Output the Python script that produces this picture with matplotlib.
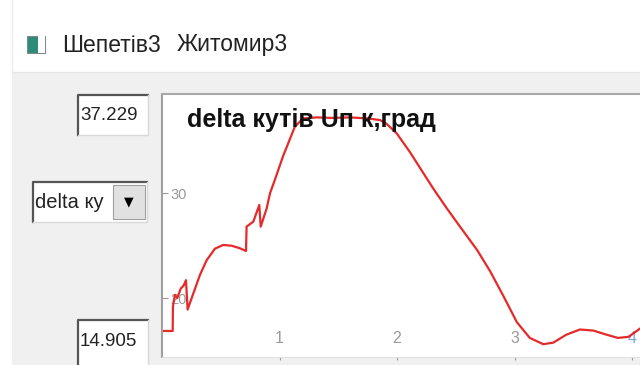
#Recreate the delta angle screenshot chart

import matplotlib
matplotlib.use('Agg')
import matplotlib.pyplot as plt
from matplotlib.patches import Rectangle
from matplotlib import font_manager

# curve (x in chart units, y in degrees)
time_x = [0.0, 0.091, 0.093, 0.11, 0.13, 0.16, 0.185, 0.204, 0.218, 0.267, 0.323,
          0.38, 0.451, 0.52, 0.593, 0.664, 0.715, 0.72, 0.777, 0.828, 0.84, 0.89,
          0.92, 0.962, 1.03, 1.13, 1.2, 1.317, 1.45, 1.6, 1.75, 1.855, 1.91, 1.996,
          2.11, 2.224, 2.31, 2.42, 2.536, 2.68, 2.79, 2.905, 3.02, 3.13, 3.245,
          3.33, 3.44, 3.557, 3.67, 3.785, 3.88, 3.97, 4.07]
delta_y = [16.86, 16.86, 19.2, 20.3, 20.0, 20.9, 21.2, 21.7, 18.9, 20.45, 22.2,
           23.6, 24.7, 25.05, 24.98, 24.73, 24.48, 26.8, 27.27, 28.86, 26.8, 28.5,
           30.0, 31.3, 33.5, 36.3, 37.1, 37.2, 37.15, 37.2, 37.1, 36.95, 36.6, 35.7,
           33.9, 31.9, 30.4, 28.6, 26.8, 24.6, 22.6, 20.2, 17.7, 16.2, 15.6,
           15.75, 16.5, 17.0, 16.9, 16.5, 16.2, 16.3, 17.1]

x_ticks = [1, 2, 3, 4]
y_ticks = [20, 30]
legend_names = ['Шепетів3', 'Житомир3']
chart_title = 'delta кутів Uп к,град'
max_text = '37.229'
min_text = '14.905'
combo_text = 'delta ку'

names = [f.name for f in font_manager.fontManager.ttflist]
ui_font = 'Liberation Sans Narrow' if 'Liberation Sans Narrow' in names else 'Liberation Sans'

W, H = 640, 365
fig = plt.figure(figsize=(W / 100, H / 100), dpi=100)

#background "window" drawn in pixel coords
ui = fig.add_axes([0, 0, 1, 1])
ui.set_xlim(0, W)
ui.set_ylim(H, 0)
ui.axis('off')
ui.add_patch(Rectangle((12, 72), W - 12, H - 72, facecolor='#f0f0f0', edgecolor='none'))
ui.plot([12, 12], [0, 72], color='#ececec', lw=1)
ui.plot([12, W], [72, 72], color='#e6e6e6', lw=1)

#legend strip at the top
ui.add_patch(Rectangle((27, 36), 18, 17, facecolor='#2e8b78', edgecolor='#7a8a90', lw=0.8))
ui.add_patch(Rectangle((38, 36), 7, 17, facecolor='#ffffff', edgecolor='none'))
ui.text(62, 45, legend_names[0], fontsize=16.5, family=ui_font, color='#222222', va='center')
ui.text(177, 45, legend_names[1], fontsize=16.5, family=ui_font, color='#222222', va='center')

def sunken_box(x0, y0, x1, y1):
    ui.add_patch(Rectangle((x0, y0), x1 - x0, y1 - y0, facecolor='white', edgecolor='none'))
    ui.plot([x0, x0, x1], [y1, y0, y0], color='#555555', lw=1.6)
    ui.plot([x1, x1, x0], [y0, y1, y1], color='#d8d8d8', lw=1)

sunken_box(78, 95, 148, 135)
ui.text(80, 115, max_text, fontsize=13.5, family=ui_font, color='#222222', va='center')
sunken_box(78, 320, 148, 368)
ui.text(80, 341, min_text, fontsize=13.5, family=ui_font, color='#222222', va='center')

sunken_box(33, 182, 147, 222)
ui.text(35, 203, combo_text, fontsize=14.5, family=ui_font, color='#222222', va='center')
ui.add_patch(Rectangle((113, 185), 32, 34, facecolor='#e1e1e1', edgecolor='#a0a0a0', lw=0.8))
ui.text(129, 202, '▼', fontsize=9, color='black', ha='center', va='center')

#the chart itself
left, right, top, bottom = 162, 640, 94, 357
ax = fig.add_axes([left / W, (H - bottom) / H, (right - left) / W, (bottom - top) / H])
ax.set_facecolor('white')
ax.plot(time_x, delta_y, color='#e52a2a', lw=1.6)
ax.set_xlim(0, (right - left) / 117.5)
ax.set_ylim(30 - (bottom - 193) / 10.5, 30 + (193 - top) / 10.5)

ax.set_xticks(x_ticks)
ax.set_yticks(y_ticks)
ax.tick_params(axis='x', direction='out', length=2, pad=-21, colors='#9a9a9a', labelsize=11.5)
ax.tick_params(axis='y', direction='in', length=4, pad=-6, colors='#9a9a9a', labelsize=10.5)
for lab in ax.get_yticklabels():
    lab.set_horizontalalignment('left')
    lab.set_family(ui_font)
for lab in ax.get_xticklabels():
    lab.set_family(ui_font)
ax.get_xticklabels()[-1].set_color('#7fa6cf')

ax.spines['right'].set_visible(False)
ax.spines['left'].set_color('#a0a0a0')
ax.spines['left'].set_linewidth(1.5)
ax.spines['bottom'].set_color('#e0e0e0')
ax.spines['top'].set_color('#a8a8a8')
ax.spines['top'].set_linewidth(1.5)

ax.text(25 / (right - left), 1 - 26 / (bottom - top), chart_title, transform=ax.transAxes,
        fontsize=18, fontweight='bold', family=ui_font, color='#111111', va='center')

fig.savefig('out.png', dpi=100)
